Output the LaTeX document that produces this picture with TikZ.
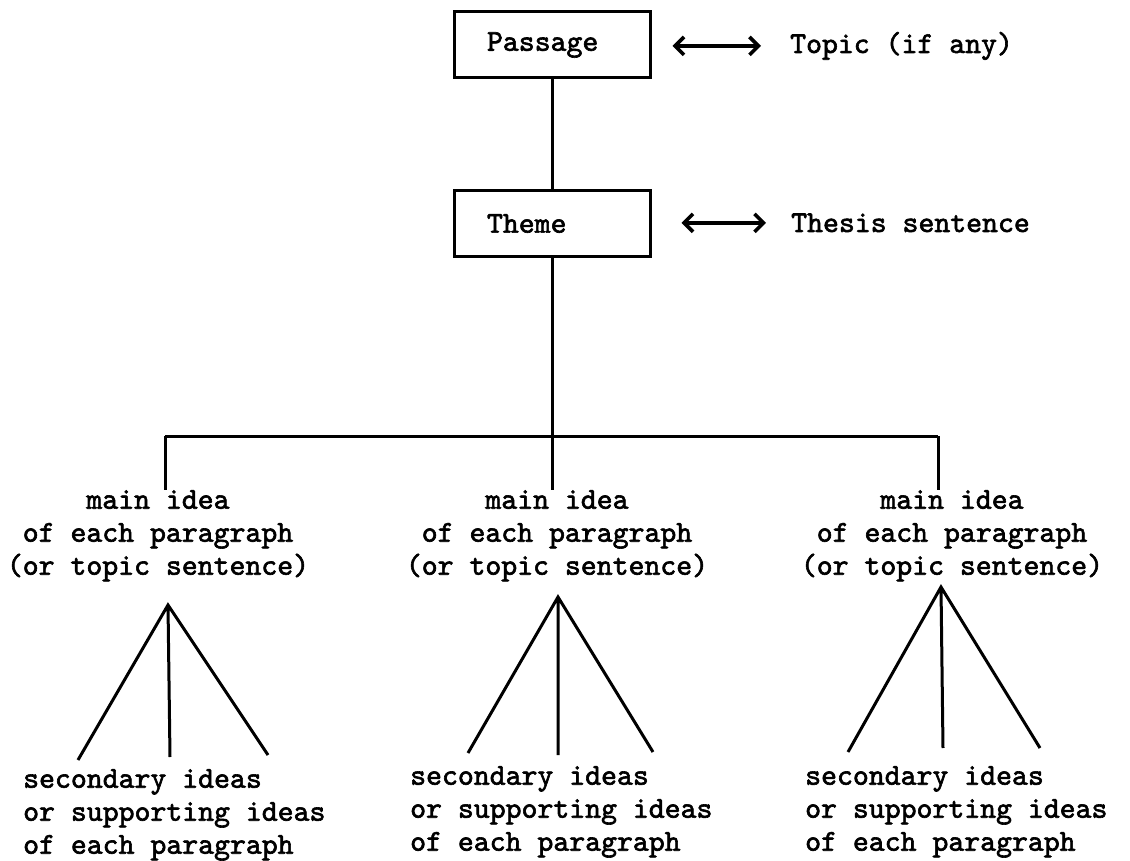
\documentclass[tikz,border=0pt]{standalone}
\usepackage{fontspec}
\newfontfamily\typefont[FakeBold=2]{lmmono10-regular.otf}
\usetikzlibrary{arrows.meta}

\tikzset{
  typed/.style={font=\typefont\fontsize{30.3}{33}\selectfont, inner sep=0pt},
  block/.style={typed, draw, line width=3pt, minimum height=66pt, text width=130pt,
    inner xsep=33pt, align=left},
  idea/.style={typed, align=center, anchor=north},
  support/.style={typed, align=left, anchor=north west},
  twoway/.style={line width=3.6pt, {Straight Barb[length=9pt,width=18pt]}-{Straight Barb[length=9pt,width=18pt]}},
  branch/.style={line width=3pt}
}

\begin{document}
\begin{tikzpicture}[x=1pt,y=1pt]
            \useasboundingbox (0,0) rectangle (1130,-861);
            \node[block] (passage) at (552,-45) {Passage};
            \node[block] (theme) at (552,-223.5) {Theme};
            \node[typed, anchor=base west] (topic) at (790,-53) {Topic (if any)};
            \node[typed, anchor=base west] (thesis) at (791,-232) {Thesis sentence};
            \draw[twoway] ([xshift=21pt]passage.east |- topic.west) -- ([xshift=-29pt]topic.west);
            \draw[twoway] ([xshift=30pt]theme.east |- thesis.west) -- ([xshift=-25pt]thesis.west);
            \draw[branch] (passage) -- (theme);
            % the three paragraphs
            \coordinate (spine) at (552,-436);
            \coordinate (left) at (165,-436);
            \coordinate (right) at (938,-436);
            \draw[branch] (theme) -- (spine);
            \draw[branch] (left) -- (right);
            \node[idea] (idea1) at (158,-490) {main idea\\of each paragraph\\(or topic sentence)};
            \node[idea] (idea2) at (557,-490) {main idea\\of each paragraph\\(or topic sentence)};
            \node[idea] (idea3) at (952,-490) {main idea\\of each paragraph\\(or topic sentence)};
            \draw[branch] (left) -- (left |- idea1.north);
            \draw[branch] (spine) -- (spine |- idea2.north);
            \draw[branch] (right) -- (right |- idea3.north);
            \node[support] (sec1) at (23,-769) {secondary ideas\\or supporting ideas\\of each paragraph};
            \node[support] (sec2) at (410,-766) {secondary ideas\\or supporting ideas\\of each paragraph};
            \node[support] (sec3) at (805,-766) {secondary ideas\\or supporting ideas\\of each paragraph};
            % fans under each main idea
            \coordinate (top1) at (168,-605);
            \coordinate (top2) at (558,-597);
            \coordinate (top3) at (941,-587);
            \draw[branch] (78,-760) -- (top1) -- (268,-755) (top1) -- (170,-757);
            \draw[branch] (468,-753) -- (top2) -- (653,-752) (top2) -- (558,-755);
            \draw[branch] (848,-752) -- (top3) -- (1040,-748) (top3) -- (943,-748);
        \end{tikzpicture}
\end{document}
